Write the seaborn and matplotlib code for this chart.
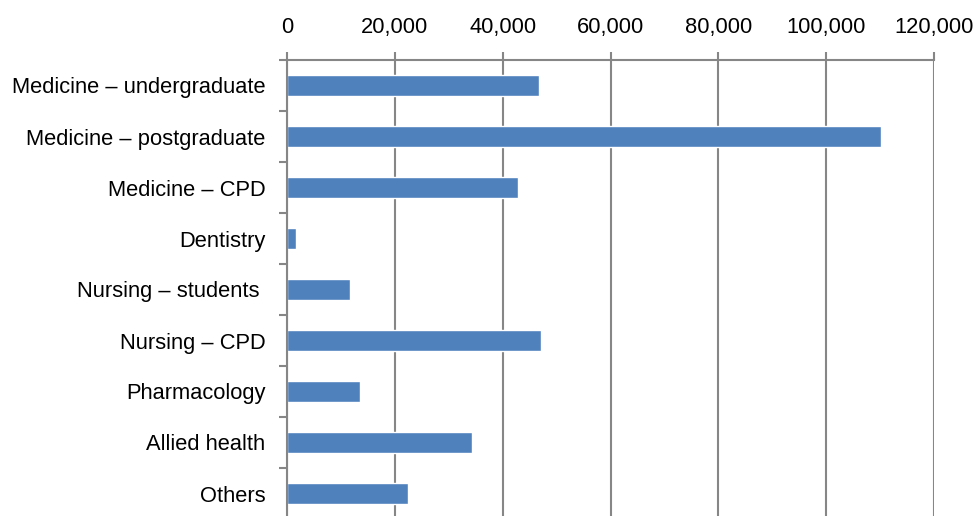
import matplotlib
matplotlib.use("Agg")
import matplotlib.pyplot as plt
import pandas as pd
import seaborn as sns
from matplotlib.ticker import FuncFormatter

# values
categories = [
    "Medicine \u2013 undergraduate",
    "Medicine \u2013 postgraduate",
    "Medicine \u2013 CPD",
    "Dentistry",
    "Nursing \u2013 students ",
    "Nursing \u2013 CPD",
    "Pharmacology",
    "Allied health",
    "Others",
]
values = [46800, 110100, 42800, 1700, 11600, 47100, 13600, 34300, 22500]
x_ticks = [0, 20000, 40000, 60000, 80000, 100000, 120000]

BAR_COLOR = "#4f81bd"
GRID_COLOR = "#868686"

sns.set_style("white")
plt.rcParams["font.family"] = ["Liberation Sans", "DejaVu Sans"]

df = pd.DataFrame({"category": categories, "value": values})

W, H = 977, 516
fig = plt.figure(figsize=(W / 100, H / 100), dpi=100)
# axes: top at y=60 px, 51 px per category (runs just past the bottom edge)
ax_h = 51 * len(categories)
ax = fig.add_axes([287 / W, (H - 60 - ax_h) / H, (934 - 287) / W, ax_h / H])

sns.barplot(data=df, x="value", y="category", orient="h", color=BAR_COLOR,
            saturation=1, width=0.4, ax=ax)

ax.set_xlim(0, 120000)
ax.set_ylim(len(categories) - 0.5, -0.5)
ax.set_xticks(x_ticks)
ax.xaxis.set_major_formatter(FuncFormatter(lambda v, _: f"{int(v):,}"))
ax.xaxis.tick_top()
ax.set_xlabel("")
ax.set_ylabel("")

ax.grid(axis="x", color=GRID_COLOR, linewidth=1.5)
ax.set_axisbelow(True)
for side in ("right", "bottom"):
    ax.spines[side].set_visible(False)
for side in ("top", "left"):
    ax.spines[side].set_color(GRID_COLOR)
    ax.spines[side].set_linewidth(1.5)

# category boundary ticks on the left axis
ax.set_yticks([i - 0.5 for i in range(len(categories))], minor=True)
ax.tick_params(axis="y", which="minor", left=True, length=6, width=1.5,
               color=GRID_COLOR)
ax.tick_params(axis="y", which="major", left=False, pad=12, labelsize=15.75,
               labelcolor="black")
ax.tick_params(axis="x", top=True, length=6, width=1.5, color=GRID_COLOR,
               pad=10, labelsize=15.75, labelcolor="black")

fig.savefig("out.png", dpi=100)
plt.close(fig)
